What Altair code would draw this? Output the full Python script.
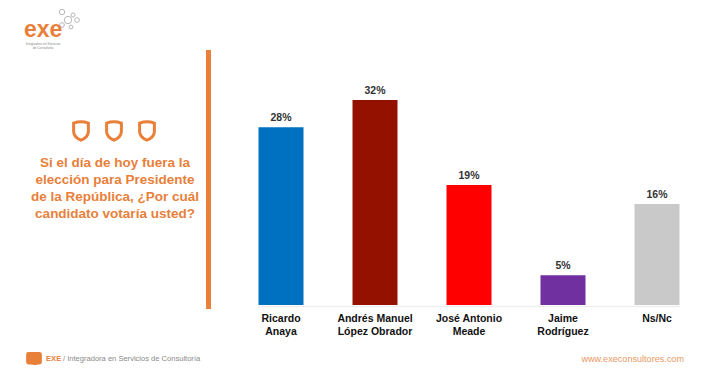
import altair as alt
import pandas as pd

candidates = ["Ricardo\nAnaya", "Andrés Manuel\nLópez Obrador", "José Antonio\nMeade", "Jaime\nRodríguez", "Ns/Nc"]
shares = [28.0, 32.3, 18.9, 4.7, 15.9]
share_labels = ["28%", "32%", "19%", "5%", "16%"]
bar_colors = ["#0070C0", "#941100", "#FF0000", "#7030A0", "#C9C9C9"]
question = ["Si el día de hoy fuera la", "elección para Presidente", "de la República, ¿Por cuál", "candidato votaría usted?"]

ORANGE = "#E8803A"
FONT = "Liberation Sans"
OX, OY = 234, 100  # page position of the plot area


def px(v):
    return alt.value(v - OX)


def py(v):
    return alt.value(v - OY)


df = pd.DataFrame({"c": candidates, "v": shares, "l": share_labels})
one = pd.DataFrame({"a": [0]})

x = alt.X(
    "c:N", sort=candidates, title=None,
    scale=alt.Scale(paddingInner=0.52, paddingOuter=0.26),
    axis=alt.Axis(
        labelExpr="split(datum.label, '\\n')", labelAngle=0, labelFont=FONT, labelFontSize=10.5,
        labelFontWeight="bold", labelColor="#111111", labelLineHeight=13, labelPadding=8,
        labelOverlap=False, labelLimit=200, ticks=False, domain=False, grid=False,
    ),
)
y = alt.Y("v:Q", axis=None, scale=alt.Scale(domain=[0, 32.3], nice=False))

baseline = alt.Chart(one).mark_rule(color="#EEEEEE", strokeWidth=1.5).encode(x=px(258), x2=px(680), y=py(306.5))
bars = alt.Chart(df).mark_bar(size=45).encode(
    x=x, y=y, color=alt.Color("c:N", sort=candidates, legend=None, scale=alt.Scale(domain=candidates, range=bar_colors))
)
values = alt.Chart(df).mark_text(baseline="bottom", dy=-4, font=FONT, fontSize=10.5, fontWeight="bold", color="#333333").encode(
    x=alt.X("c:N", sort=candidates), y=y, text="l:N"
)

rule = alt.Chart(one).mark_rule(color=ORANGE, strokeWidth=5).encode(x=px(208.5), y=py(50), y2=py(309))

q_layers = [
    alt.Chart(one).mark_text(text=t, font=FONT, fontSize=13.5, fontWeight="bold", color=ORANGE, align="center", baseline="middle").encode(
        x=px(115), y=py(yy)
    )
    for t, yy in zip(question, [163, 180, 197, 214])
]

shield = "M -0.8 -0.85 Q 0 -1.15 0.8 -0.85 L 0.8 0.1 Q 0.75 0.7 0 1 Q -0.75 0.7 -0.8 0.1 Z"
shields = [
    alt.Chart(one).mark_point(shape=shield, size=340, filled=False, stroke=ORANGE, strokeWidth=3, opacity=1).encode(x=px(xx), y=py(131))
    for xx in [81, 114, 147]
]

# logo
logo = [
    alt.Chart(one).mark_text(text="exe", font=FONT, fontSize=23, fontWeight="bold", color=ORANGE, align="left", baseline="alphabetic").encode(x=px(24), y=py(37)),
    alt.Chart(one).mark_text(text="Integradora en Servicios", font=FONT, fontSize=3.2, color="#888888", align="center").encode(x=px(43), y=py(43.5)),
    alt.Chart(one).mark_text(text="de Consultoría", font=FONT, fontSize=3.2, color="#888888", align="center").encode(x=px(43), y=py(47.5)),
]
for cx, cy, s in [(62, 12, 30), (73, 15, 16), (68, 20, 55), (77, 20, 22), (62, 25, 22), (71, 27, 14)]:
    logo.append(alt.Chart(one).mark_point(shape="circle", size=s, filled=False, stroke="#9A9A9A", strokeWidth=1).encode(x=px(cx), y=py(cy)))

# footer
bubble = "M -1 -0.8 Q -1 -1 -0.8 -1 L 0.8 -1 Q 1 -1 1 -0.8 L 1 0.3 Q 1 0.5 0.8 0.5 L 0.3 0.5 L 0.25 1 L -0.1 0.5 L -0.8 0.5 Q -1 0.5 -1 0.3 Z"
footer = [
    alt.Chart(one).mark_point(shape=bubble, size=190, filled=True, fill=ORANGE, stroke=ORANGE, opacity=1).encode(x=px(34), y=py(360)),
    alt.Chart(one).mark_text(text="EXE", font=FONT, fontSize=7.6, fontWeight="bold", color=ORANGE, align="left", baseline="middle").encode(x=px(46), y=py(359)),
    alt.Chart(one).mark_text(text="/ Integradora en Servicios de Consultoría", font=FONT, fontSize=7.55, color="#8A8A8A", align="left", baseline="middle").encode(x=px(63), y=py(359)),
    alt.Chart(one).mark_text(text="www.execonsultores.com", font=FONT, fontSize=9.1, color="#E8985F", align="right", baseline="middle").encode(x=px(684), y=py(359)),
]

chart = alt.layer(baseline, bars, values, rule, *q_layers, *shields, *logo, *footer).resolve_scale(x="shared").properties(
    width=470, height=205,
    padding={"left": OX - 8, "top": OY - 8, "right": 0, "bottom": 60},
    autosize=alt.AutoSizeParams(type="none"),
    background="white",
).configure_view(stroke=None)

chart.save("out.html", embed_options={"renderer": "svg", "actions": False})
